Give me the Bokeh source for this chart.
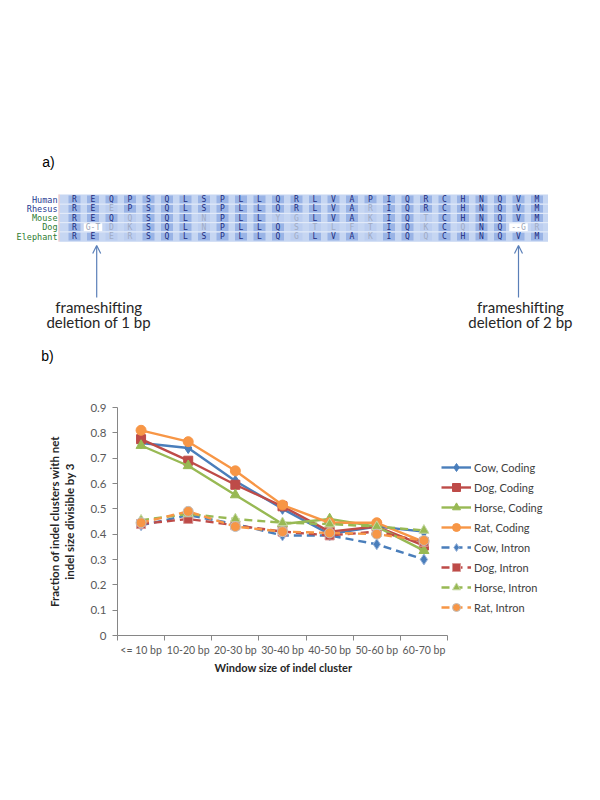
from bokeh.plotting import figure
from bokeh.layouts import column
from bokeh.models import (Range1d, FixedTicker, NumeralTickFormatter, Legend,
                          LegendItem, Arrow, OpenHead, ColumnDataSource, Title)
from bokeh.core.properties import value
from bokeh.embed import file_html
from bokeh.resources import INLINE

# ---------------- data: panel a) alignment ----------------
species = ["Human", "Rhesus", "Mouse", "Dog", "Elephant"]
species_colors = ["#1f3a93", "#1f3a93", "#2e7d32", "#2e7d32", "#2e7d32"]
human = ["R", "E", "Q", "P", "S", "Q", "L", "S", "P", "L", "L", "Q", "R", "L", "V", "A", "P", "I", "Q", "R", "C", "H", "N", "Q", "V", "M"]
rhesus = ["R", "E", "E", "P", "S", "Q", "L", "S", "P", "L", "L", "Q", "R", "L", "V", "A", "R", "I", "Q", "R", "C", "H", "N", "Q", "V", "M"]
mouse = ["R", "E", "Q", "Q", "S", "Q", "L", "N", "P", "L", "L", "Y", "G", "L", "V", "A", "K", "I", "Q", "T", "C", "H", "N", "Q", "V", "M"]
dog = ["R", "G-T", "D", "K", "S", "Q", "L", "N", "P", "L", "L", "Q", "S", "T", "L", "F", "T", "I", "Q", "K", "C", "Q", "N", "Q", "--G", "R"]
elephant = ["R", "E", "E", "R", "S", "Q", "L", "S", "P", "L", "L", "Q", "G", "L", "V", "A", "K", "I", "Q", "Q", "C", "H", "N", "Q", "V", "M"]
rows = [human, rhesus, mouse, dog, elephant]
annotations = [["frameshifting", "deletion of 1 bp"], ["frameshifting", "deletion of 2 bp"]]
annotation_cols = [1.2, 24]

# ---------------- data: panel b) chart ----------------
categories = ["<= 10 bp", "10-20 bp", "20-30 bp", "30-40 bp", "40-50 bp", "50-60 bp", "60-70 bp"]
cow_coding = [0.76, 0.74, 0.61, 0.50, 0.40, 0.43, 0.41]
dog_coding = [0.775, 0.69, 0.595, 0.51, 0.41, 0.43, 0.355]
horse_coding = [0.75, 0.67, 0.555, 0.44, 0.46, 0.43, 0.335]
rat_coding = [0.81, 0.765, 0.65, 0.515, 0.445, 0.445, 0.37]
cow_intron = [0.435, 0.475, 0.44, 0.395, 0.395, 0.36, 0.30]
dog_intron = [0.44, 0.46, 0.435, 0.41, 0.395, 0.41, 0.37]
horse_intron = [0.455, 0.48, 0.46, 0.445, 0.44, 0.43, 0.415]
rat_intron = [0.445, 0.49, 0.43, 0.41, 0.405, 0.40, 0.375]
y_ticks = [0.0, 0.1, 0.2, 0.3, 0.4, 0.5, 0.6, 0.7, 0.8, 0.9]
x_title = "Window size of indel cluster"
y_title = "Fraction of indel clusters with net\nindel size divisible by 3"

FONT = "Lato"
W = 590

# ================= panel a =================
pa = figure(width=W, height=370, x_range=Range1d(0, W), y_range=Range1d(370, 0),
            output_backend="svg", toolbar_location=None, min_border=0)
pa.frame_align = False
pa.axis.visible = False
pa.grid.visible = False
pa.outline_line_color = None

col_x0, col_w = 74.0, 18.5
row_y0, row_h = 199.0, 9.25

n_cols = len(human)
blk_l = col_x0 - 15
blk_r = col_x0 + (n_cols - 1) * col_w + 11
blk_t = row_y0 - row_h / 2 - 0.5
blk_b = row_y0 + (len(rows) - 1) * row_h + row_h / 2 + 0.5
pa.quad(left=[blk_l], right=[blk_r], top=[blk_t], bottom=[blk_b],
        fill_color="#c6d6f2", line_color=None)
pa.segment(x0=[blk_l - 0.5], x1=[blk_l - 0.5], y0=[blk_t], y1=[blk_b],
           line_color="#e8b4b4", line_width=1)

cx, cy, cw, cc, tx, tc = [], [], [], [], [], []
for r, row in enumerate(rows):
    for c, aa in enumerate(row):
        x = col_x0 + c * col_w
        y = row_y0 + r * row_h
        if "-" in aa:
            fill, color, w = "#ffffff", "#9aa3b5", col_w
        elif aa == human[c]:
            fill, color, w = "#9ab4e6", "#1c2c80", 12
        else:
            fill, color, w = "#bccef0", "#a0abc4", 12
        cx.append(x); cy.append(y); cw.append(w); cc.append(fill)
        tx.append(aa); tc.append(color)
pa.rect(x=cx, y=cy, width=cw, height=row_h - 1.2, fill_color=cc, line_color=None)
sep_y = [row_y0 + r * row_h + row_h / 2 for r in range(len(rows) - 1)]
pa.segment(x0=[blk_l] * len(sep_y), x1=[blk_r] * len(sep_y),
           y0=sep_y, y1=sep_y, line_color="#e6edfa", line_width=1)
pa.text(x=cx, y=cy, text=tx, text_color=tc, text_font=value("DejaVu Sans Mono"),
        text_font_size="8px", text_align="center", text_baseline="middle")

pa.text(x=[blk_l - 2] * len(species), y=[row_y0 + r * row_h for r in range(len(species))],
        text=species, text_color=species_colors, text_font=value("DejaVu Sans Mono"),
        text_font_size="8.5px", text_align="right", text_baseline="middle")

for ann, col in zip(annotations, annotation_cols):
    ax = col_x0 + col * col_w
    pa.add_layout(Arrow(end=OpenHead(size=8, line_color="#5a7fb8", line_width=1.2),
                        x_start=ax, y_start=297, x_end=ax, y_end=245,
                        line_color="#5a7fb8", line_width=1.2))
    pa.text(x=[ax + 2, ax + 2], y=[306, 321], text=ann, text_color="#262626",
            text_font=value(FONT), text_font_size="15px", text_align="center",
            text_baseline="middle")

pa.text(x=[48, 47], y=[161, 355], text=["a)", "b)"], text_color="#000000",
        text_font=value("Liberation Sans"), text_font_size="14px",
        text_align="center", text_baseline="middle")

# ================= panel b =================
frame_l, frame_r, cat_r = 117, W - 5, 447   # frame spans to the right so the legend is inside it
x_end = len(categories) * (frame_r - frame_l) / (cat_r - frame_l)
p = figure(width=W, height=425, x_range=Range1d(0, x_end), y_range=Range1d(0, 0.9),
           output_backend="svg", toolbar_location=None,
           min_border_left=frame_l, min_border_right=W - frame_r, min_border_top=37,
           min_border_bottom=160)
p.frame_align = False
p.grid.visible = False
p.outline_line_color = None

xs = [i + 0.5 for i in range(len(categories))]

blue, red, green, orange = "#4a7ebb", "#be4b48", "#98b954", "#f79646"
series = [
    ("Cow, Coding", cow_coding, blue, "diamond", 11, "solid", blue),
    ("Dog, Coding", dog_coding, red, "square", 9, "solid", red),
    ("Horse, Coding", horse_coding, green, "triangle", 10, "solid", green),
    ("Rat, Coding", rat_coding, orange, "circle", 10, "solid", orange),
    ("Cow, Intron", cow_intron, blue, "diamond", 11, "8 5", "#9db6dc"),
    ("Dog, Intron", dog_intron, red, "square", 9, "8 5", "#d99a98"),
    ("Horse, Intron", horse_intron, green, "triangle", 10, "8 5", "#c6d9a4"),
    ("Rat, Intron", rat_intron, orange, "circle", 10, "8 5", "#bfbfbf"),
]
items = []
for name, vals, color, marker, size, dash, outline in series:
    src = ColumnDataSource(dict(x=xs, y=vals))
    lr = p.line("x", "y", source=src, line_color=color, line_width=2.4, line_dash=dash)
    sr = p.scatter("x", "y", source=src, marker=marker, size=size, fill_color=color,
                   line_color=outline, line_width=1)
    items.append(LegendItem(label=name, renderers=[lr, sr]))

legend = Legend(items=items, location=(324, 18), padding=0, margin=0, spacing=0,
                label_height=20, glyph_height=20, glyph_width=30, label_standoff=3,
                label_text_font=FONT, label_text_font_size="11px", label_text_color="#404040",
                background_fill_alpha=0, border_line_color=None)
p.add_layout(legend)

xa = p.xaxis[0]
xa.bounds = (0, len(categories))
xa.ticker = FixedTicker(ticks=xs, minor_ticks=list(range(len(categories) + 1)))
xa.major_label_overrides = {x: c for x, c in zip(xs, categories)}
xa.major_tick_out = 0
xa.major_tick_in = 0
xa.minor_tick_out = 5
xa.minor_tick_in = 0
xa.major_label_standoff = 3

# x-axis title centred under the categories (frame extends further right for the legend)
p.add_layout(Title(text=x_title, align="left", offset=97, standoff=0,
                   text_font=FONT, text_font_size="11px", text_font_style="bold",
                   text_color="#262626"), "below")

ya = p.yaxis[0]
ya.ticker = FixedTicker(ticks=y_ticks, minor_ticks=[])
ya.formatter = NumeralTickFormatter(format="0.[0]")
ya.major_tick_out = 5
ya.major_tick_in = 0
ya.minor_tick_out = 0
ya.minor_tick_in = 0
ya.major_label_standoff = 6
ya.axis_label = y_title
ya.axis_label_standoff = 11

for ax in (xa, ya):
    ax.axis_line_color = "#868686"
    ax.major_tick_line_color = "#868686"
    ax.minor_tick_line_color = "#868686"
    ax.major_label_text_font = FONT
    ax.major_label_text_color = "#595959"
    ax.axis_label_text_font = FONT
    ax.axis_label_text_font_size = "11.5px"
    ax.axis_label_text_font_style = "bold"
    ax.axis_label_text_color = "#262626"
xa.major_label_text_font_size = "10.5px"
ya.major_label_text_font_size = "11.5px"

layout = column(pa, p, spacing=0)
open("out.html", "w").write(file_html(layout, INLINE))
